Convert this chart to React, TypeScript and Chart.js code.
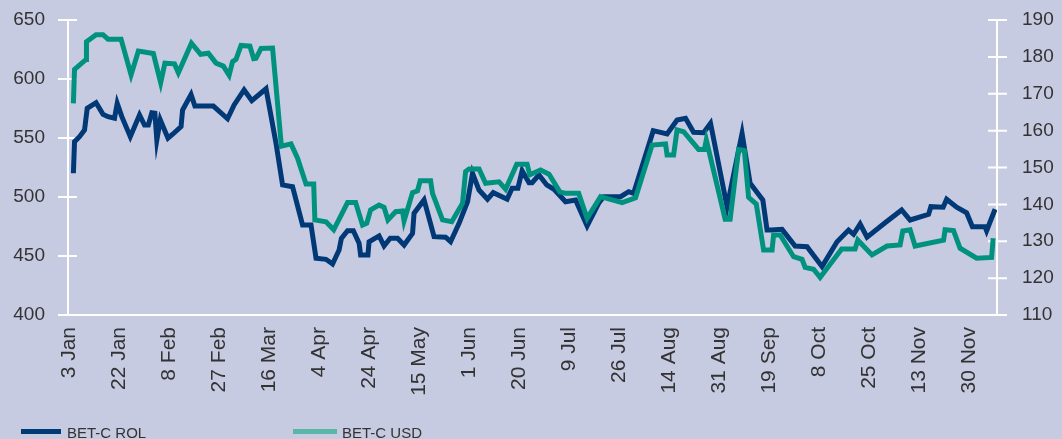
import React, { useEffect, useRef } from "react";
import { Chart, registerables } from "chart.js";

Chart.register(...registerables);

// Tick labels, one every 13 trading days
const tickLabels = [
  "3 Jan", "22 Jan", "8 Feb", "27 Feb", "16 Mar", "4 Apr", "24 Apr", "15 May",
  "1 Jun", "20 Jun", "9 Jul", "26 Jul", "14 Aug", "31 Aug", "19 Sep", "8 Oct",
  "25 Oct", "13 Nov", "30 Nov",
];
const tickStep = 13;

// BET-C ROL (left axis) — trading-day position and value
const rolDays = [
  1.1, 1.4, 2.7, 4.0, 4.7, 7.0, 8.8, 10.1, 11.8, 12.5, 13.7, 15.9, 18.3, 19.6, 20.6, 21.5,
  22.3, 22.8, 23.7, 25.7, 27.0, 29.1, 29.5, 31.7, 32.7, 37.5, 41.2, 42.9, 45.5, 47.5, 51.2,
  53.8, 55.5, 58.1, 60.7, 62.9, 64.2, 66.8, 68.5, 70.2, 70.8, 72.4, 73.9, 75.4, 75.8, 77.7,
  78.0, 80.6, 81.9, 83.5, 85.4, 87.1, 89.3, 89.7, 92.3, 94.9, 97.9, 99.2, 101.4, 103.6,
  104.9, 106.6, 108.8, 110.3, 113.9, 115.2, 116.7, 117.8, 119.6, 120.4, 122.2, 124.2,
  126.1, 129.1, 131.7, 134.7, 137.7, 139.0, 143.4, 145.5, 146.8, 151.9, 155.5, 158.1,
  160.3, 162.4, 165.0, 166.8, 171.1, 175.0, 177.1, 180.4, 181.5, 182.5, 185.4, 188.8,
  191.9, 195.8, 199.7, 202.7, 204.0, 205.7, 207.5, 212.2, 216.5, 218.7, 223.5, 224.1,
  227.3, 228.2, 230.8, 233.4, 234.9, 238.2, 238.6, 240.8,
];
const rolValues = [
  520.1, 546.9, 551.1, 556.8, 575.2, 579.9, 570.1, 568.1, 566.7, 579.4, 568.1, 551.1, 569.5,
  561.0, 561.0, 571.4, 571.0, 548.3, 565.3, 549.8, 553.4, 559.6, 573.7, 586.9, 577.1, 577.1,
  566.3, 578.0, 590.7, 581.6, 591.7, 545.5, 510.2, 508.7, 476.3, 476.3, 448.1, 447.2, 443.2,
  455.1, 465.0, 471.4, 471.4, 460.8, 450.9, 450.9, 462.1, 467.0, 458.5, 465.0, 465.0, 459.3,
  469.2, 486.2, 497.5, 466.4, 465.9, 462.1, 477.7, 496.0, 520.1, 505.9, 498.1, 503.7, 498.1,
  507.4, 507.4, 522.3, 512.1, 512.1, 518.7, 510.2, 506.5, 496.0, 497.5, 475.4, 494.7, 500.3,
  500.3, 504.5, 503.1, 556.2, 553.4, 565.3, 566.7, 554.8, 554.5, 562.5, 491.8, 554.0, 511.6,
  497.5, 472.0, 472.0, 472.6, 458.5, 457.9, 441.1, 462.1, 472.0, 468.4, 477.1, 465.9, 478.2,
  489.0, 480.5, 485.3, 491.8, 491.3, 498.1, 491.3, 486.7, 474.8, 474.8, 471.4, 489.6,
];

// BET-C USD (right axis) — trading-day position and value
const usdDays = [
  1.1, 1.4, 4.4, 4.5, 7.0, 8.8, 10.1, 13.5, 16.1, 18.0, 21.9, 23.8, 24.9, 27.4, 28.4, 31.8,
  34.2, 36.2, 38.2, 40.1, 41.6, 42.5, 43.4, 44.7, 47.0, 48.0, 48.6, 49.9, 52.9, 55.2, 57.7,
  59.4, 61.6, 63.6, 63.9, 66.8, 68.8, 72.4, 74.5, 76.3, 77.4, 78.4, 80.6, 81.9, 82.9, 84.9,
  86.7, 87.1, 89.3, 90.6, 91.3, 94.0, 94.5, 97.1, 99.5, 102.3, 103.1, 104.0, 106.6, 108.3,
  111.8, 113.5, 116.4, 119.1, 119.8, 122.6, 124.8, 127.6, 129.1, 132.5, 134.7, 138.2, 141.2,
  143.8, 147.3, 151.6, 155.1, 155.5, 157.2, 158.1, 159.8, 163.7, 165.2, 165.7, 170.6, 171.9,
  174.1, 175.6, 176.7, 178.7, 180.6, 182.8, 183.2, 184.9, 188.4, 190.6, 191.4, 193.6, 195.3,
  200.9, 204.4, 205.1, 208.8, 212.7, 216.1, 216.8, 218.7, 220.0, 227.4, 227.8, 230.0, 231.7,
  236.0, 239.9, 240.3,
];
const usdValues = [
  167.4, 176.6, 179.3, 184.1, 186.0, 186.0, 184.8, 184.8, 175.1, 181.6, 180.9, 173.0, 178.3,
  178.1, 175.7, 183.7, 180.7, 181.0, 178.3, 177.5, 175.0, 178.7, 179.3, 183.1, 182.9, 179.5,
  179.6, 182.3, 182.4, 155.8, 156.4, 152.5, 145.5, 145.5, 135.8, 135.3, 133.1, 140.5, 140.5,
  134.4, 134.9, 138.5, 139.8, 139.2, 135.8, 138.0, 138.2, 135.5, 143.2, 143.7, 146.4, 146.4,
  143.0, 135.8, 135.3, 140.3, 148.9, 149.6, 149.6, 145.7, 146.1, 144.1, 150.9, 150.9, 148.0,
  149.3, 148.2, 143.4, 143.0, 143.0, 136.2, 142.1, 141.2, 140.5, 141.8, 156.1, 156.4, 153.4,
  153.4, 160.2, 159.7, 154.9, 154.9, 157.5, 136.0, 136.0, 154.9, 154.6, 141.9, 140.1, 127.6,
  127.6, 131.7, 131.7, 125.8, 125.1, 122.9, 122.4, 120.2, 127.9, 127.9, 130.3, 126.3, 128.7,
  129.0, 132.8, 133.1, 128.7, 130.3, 133.1, 132.9, 128.1, 125.4, 125.6, 130.8,
];

const seriesNames = ["BET-C ROL", "BET-C USD"];
const rolColor = "#003976";
const usdColor = "#00927e";
const usdLegendColor = "#5ab7a6";
const bgColor = "#c7cbe2";
const textColor = "#333333";
const fontFamily = '"Liberation Sans", Arial, Helvetica, sans-serif';

const axesPlugin = {
  id: "whiteAxes",
  beforeDatasetsDraw(chart: any) {
    const { ctx, chartArea } = chart;
    const { left, right, top, bottom } = chartArea;
    const yL = chart.scales.y;
    const yR = chart.scales.y1;
    ctx.save();
    ctx.strokeStyle = "#ffffff";
    ctx.lineWidth = 2;
    ctx.beginPath();
    ctx.moveTo(left, top);
    ctx.lineTo(left, bottom);
    ctx.moveTo(right, top);
    ctx.lineTo(right, bottom);
    ctx.moveTo(left - 10, bottom);
    ctx.lineTo(right + 10, bottom);
    yL.ticks.forEach((t: any) => {
      const y = yL.getPixelForValue(t.value);
      ctx.moveTo(left - 10, y);
      ctx.lineTo(left + 9, y);
    });
    yR.ticks.forEach((t: any) => {
      const y = yR.getPixelForValue(t.value);
      ctx.moveTo(right - 9, y);
      ctx.lineTo(right + 10, y);
    });
    ctx.stroke();
    ctx.restore();
  },
};

const zeroPad = (s: any) => {
  s.paddingTop = 0;
  s.paddingBottom = 0;
  s.paddingLeft = 0;
  s.paddingRight = 0;
};

export default function App() {
  const canvasRef = useRef<HTMLCanvasElement | null>(null);

  useEffect(() => {
    const canvas = canvasRef.current;
    if (!canvas) return;
    const chart = new Chart(canvas, {
      type: "line",
      data: {
        datasets: [
          {
            label: seriesNames[1],
            data: usdDays.map((d, i) => ({ x: d, y: usdValues[i] })),
            borderColor: usdColor,
            borderWidth: 5,
            pointRadius: 0,
            tension: 0,
            yAxisID: "y1",
            order: 0,
          },
          {
            label: seriesNames[0],
            data: rolDays.map((d, i) => ({ x: d, y: rolValues[i] })),
            borderColor: rolColor,
            borderWidth: 5,
            pointRadius: 0,
            tension: 0,
            yAxisID: "y",
            order: 1,
          },
        ],
      },
      options: {
        responsive: false,
        animation: false,
        layout: { padding: { top: 20, left: 0, right: 0, bottom: 0 } },
        plugins: { legend: { display: false }, tooltip: { enabled: false } },
        scales: {
          x: {
            type: "linear",
            min: -0.3,
            max: 241.3,
            grid: { display: false, drawTicks: false },
            border: { display: false },
            afterBuildTicks: (s: any) => {
              s.ticks = tickLabels.map((_, i) => ({ value: i * tickStep }));
            },
            afterFit: (s: any) => {
              s.height = 124;
              zeroPad(s);
            },
            ticks: {
              autoSkip: false,
              minRotation: 90,
              maxRotation: 90,
              padding: 12,
              color: textColor,
              font: { family: fontFamily, size: 21 },
              callback: (_v: any, i: number) => tickLabels[i],
            },
          },
          y: {
            position: "left",
            min: 400,
            max: 650,
            grid: { display: false, drawTicks: false },
            border: { display: false },
            afterFit: (s: any) => {
              s.width = 68;
              zeroPad(s);
            },
            ticks: {
              stepSize: 50,
              padding: 23,
              color: textColor,
              font: { family: fontFamily, size: 19 },
            },
          },
          y1: {
            position: "right",
            min: 110,
            max: 190,
            grid: { display: false, drawTicks: false },
            border: { display: false },
            afterFit: (s: any) => {
              s.width = 65;
              zeroPad(s);
            },
            ticks: {
              stepSize: 10,
              padding: 25,
              color: textColor,
              font: { family: fontFamily, size: 19 },
            },
          },
        },
      },
      plugins: [axesPlugin],
    });
    return () => chart.destroy();
  }, []);

  const legendText: React.CSSProperties = {
    position: "absolute",
    top: 425,
    fontFamily,
    fontSize: 15,
    lineHeight: "15px",
    color: textColor,
    whiteSpace: "nowrap",
  };

  return (
    <div
      style={{
        position: "absolute",
        left: 0,
        top: 0,
        width: 1062,
        height: 439,
        background: bgColor,
        overflow: "hidden",
      }}
    >
      <canvas
        ref={canvasRef}
        width={1062}
        height={439}
        style={{ position: "absolute", left: 0, top: 0, width: 1062, height: 439 }}
      />
      <div style={{ position: "absolute", left: 21, top: 429, width: 40, height: 5, background: rolColor }} />
      <div style={{ ...legendText, left: 67 }}>{seriesNames[0]}</div>
      <div style={{ position: "absolute", left: 293, top: 429, width: 44, height: 5, background: usdLegendColor }} />
      <div style={{ ...legendText, left: 342 }}>{seriesNames[1]}</div>
    </div>
  );
}
